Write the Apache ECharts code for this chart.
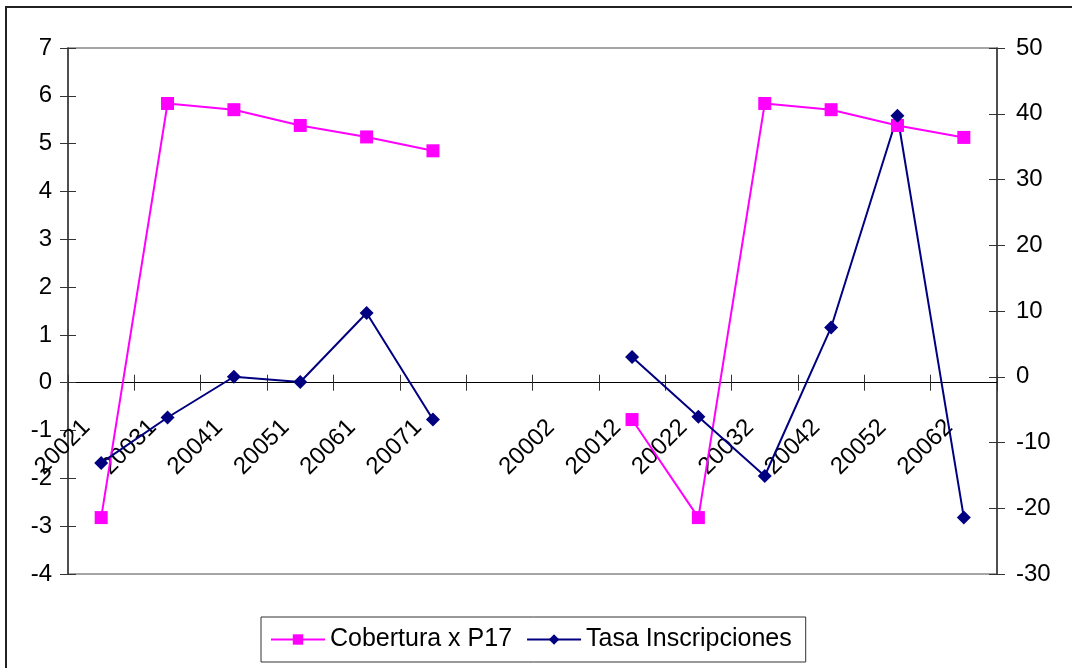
<!DOCTYPE html>
<html>
<head>
<meta charset="utf-8">
<script src="https://cdn.jsdelivr.net/npm/echarts@6/dist/echarts.min.js"></script>
<style>
html,body{margin:0;padding:0;background:#fff;}
#chart{position:absolute;left:0;top:0;width:1072px;height:668px;}
#frame{position:absolute;left:5px;top:6px;width:1200px;height:800px;border:2px solid #222;box-sizing:border-box;pointer-events:none;}
</style>
</head>
<body>
<div id="chart"></div>
<div id="frame"></div>
<script>
const categories = ['20021','20031','20041','20051','20061','20071','','20002','20012','20022','20032','20042','20052','20062'];
const cobertura = [-2.82, 5.84, 5.71, 5.38, 5.14, 4.85, null, null, -0.77, -2.82, 5.84, 5.71, 5.38, 5.13];
const tasa = [-13.1, -6.2, 0.0, -0.8, 9.7, -6.5, null, null, 3.0, -6.1, -15.1, 7.5, 39.7, -21.4];
const leftTicks = {min: -4, max: 7, interval: 1};
const rightTicks = {min: -30, max: 50, interval: 10};

const gridTop = 48, gridBottomPx = 574;
const chart = echarts.init(document.getElementById('chart'), null, {renderer: 'canvas'});
const font = 'Liberation Sans, Arial, sans-serif';
const axisColor = '#333';
// position of left-axis zero inside the grid
const zeroY = gridTop + (leftTicks.max - 0) / (leftTicks.max - leftTicks.min) * (gridBottomPx - gridTop);
const xOffset = -(gridBottomPx - zeroY);
function yAx(pos, t, labels, inside) {
  return {
    type: 'value', position: pos, min: t.min, max: t.max, interval: t.interval,
    splitLine: {show: false},
    axisLine: {show: labels, lineStyle: {color: axisColor, width: 1.5}},
    axisTick: {show: true, inside: inside, length: 8, lineStyle: {color: axisColor, width: 1}},
    axisLabel: {show: labels, color: '#000', fontSize: 24, fontFamily: font, margin: pos === 'left' ? 16 : 19}
  };
}
function xAx(labels, inside) {
  return {
    type: 'category', data: categories, boundaryGap: true, position: 'bottom', offset: xOffset,
    axisLine: {show: true, onZero: false, lineStyle: {color: '#000', width: 1}},
    axisTick: {show: true, inside: inside, length: 8, lineStyle: {color: axisColor, width: 1}},
    axisLabel: {show: labels, interval: 0, rotate: 45, color: '#000', fontSize: 24, fontFamily: font, margin: 26, padding: [0, 21, 0, 0]},
    splitLine: {show: false}
  };
}
chart.setOption({
  animation: false,
  backgroundColor: '#fff',
  grid: {left: 68, right: 75, top: gridTop, bottom: 668 - gridBottomPx, show: true, borderColor: '#888', borderWidth: 1.5, backgroundColor: 'transparent'},
  xAxis: [xAx(true, false), xAx(false, true)],
  yAxis: [yAx('left', leftTicks, true, false), yAx('right', rightTicks, true, false), yAx('left', leftTicks, false, true), yAx('right', rightTicks, false, true)],
  legend: {
    left: 261, top: 617, orient: 'horizontal',
    padding: [10, 14, 10, 9], itemGap: 14, itemWidth: 54, itemHeight: 13,
    borderColor: '#333', borderWidth: 1,
    textStyle: {fontSize: 25, fontFamily: font, color: '#000'},
    data: ['Cobertura x P17', 'Tasa Inscripciones']
  },
  series: [
    {name: 'Cobertura x P17', type: 'line', xAxisIndex: 0, yAxisIndex: 0, data: cobertura,
     symbol: 'rect', symbolSize: 13, connectNulls: false,
     lineStyle: {color: '#FF00FF', width: 2}, itemStyle: {color: '#FF00FF'}},
    {name: 'Tasa Inscripciones', type: 'line', xAxisIndex: 0, yAxisIndex: 1, data: tasa,
     symbol: 'diamond', symbolSize: 14, connectNulls: false,
     lineStyle: {color: '#000080', width: 2}, itemStyle: {color: '#000080'}}
  ]
});
</script>
</body>
</html>
